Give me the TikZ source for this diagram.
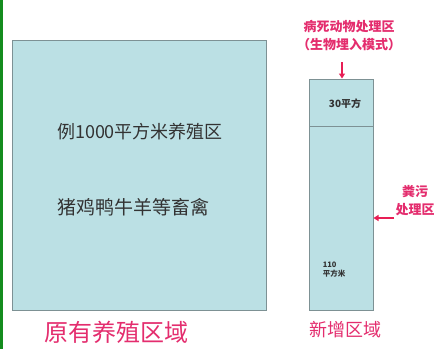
\documentclass[tikz,border=0pt]{standalone}
\usepackage{fontspec}
\setmainfont{Noto Sans CJK SC}
\usetikzlibrary{arrows.meta}
\definecolor{areafill}{RGB}{187,224,228}
\definecolor{areadraw}{RGB}{125,145,148}
\definecolor{pinktxt}{RGB}{228,45,110}
\definecolor{arrowred}{RGB}{232,30,85}
\definecolor{edgegreen}{RGB}{20,140,30}
\tikzset{
  area/.style={draw=areadraw, fill=areafill, line width=1pt},
  darktxt/.style={text=black!80, inner sep=0pt},
  pinklabel/.style={text=pinktxt, inner sep=0pt, align=center},
  pinkarrow/.style={draw=arrowred, line width=1.6pt, -{Triangle[length=5pt,width=6pt]}}
}
\begin{document}
\begin{tikzpicture}[x=1pt,y=-1pt]
\useasboundingbox (0,0) rectangle (443,349);
\fill[white] (0,0) rectangle (443,349);
\fill[edgegreen] (0,0) rectangle (3,349);
% original area
\node[area, minimum width=254pt, minimum height=270pt, inner sep=0pt] (old) at (139,175) {};
\node[darktxt, font=\fontsize{18}{18}\selectfont] (t1) at (140,132) {例1000平方米养殖区};
\node[darktxt, font=\fontsize{19}{19}\selectfont] (t2) at (133,207) {猪鸡鸭牛羊等畜禽};
\node[pinklabel, font=\fontsize{24}{24}\selectfont] (oldlab) at (116,332) {原有养殖区域};
% new area
\node[area, minimum width=64pt, minimum height=47pt, inner sep=0pt] (dead) at (341,102.5) {};
\node[area, minimum width=64pt, minimum height=184pt, inner sep=0pt] (manure) at (341,218) {};
\node[darktxt, font=\fontsize{10}{10}\selectfont\bfseries] (t30) at (345,104) {30平方};
\node[darktxt, font=\fontsize{7.5}{9}\selectfont\bfseries, align=left] (t110) at (334,270) {110\\平方米};
\node[pinklabel, font=\fontsize{18}{18}\selectfont] (newlab) at (345,330) {新增区域};
\node[pinklabel, font=\fontsize{13}{18}\selectfont\bfseries] (deadlab) at (349,36) {病死动物处理区\\（生物埋入模式）};
\node[pinklabel, font=\fontsize{13}{18}\selectfont\bfseries] (manlab) at (415,201) {粪污\\处理区};
\coordinate (a1) at (342,62);
\coordinate (a2) at (394,218);
\draw[pinkarrow] (a1) -- (dead.north -| a1);
\draw[pinkarrow] (a2) -- (manure.east |- a2);
\end{tikzpicture}
\end{document}
